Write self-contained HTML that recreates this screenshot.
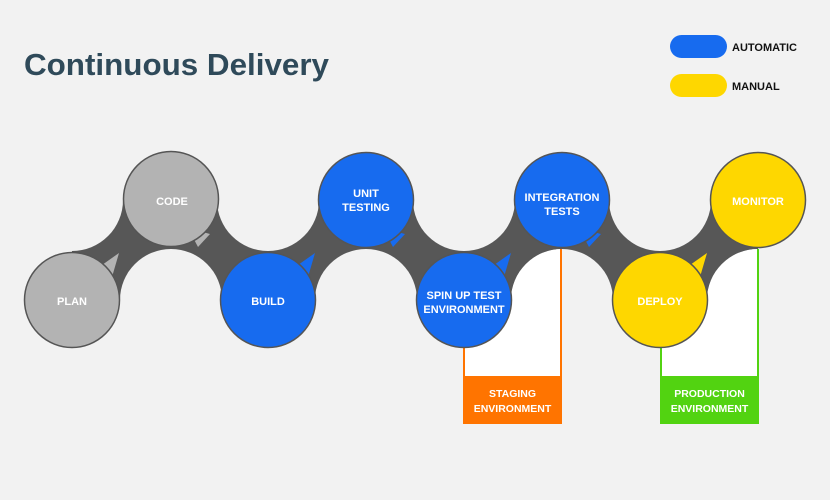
<!DOCTYPE html>
<html><head><meta charset="utf-8"><style>
html,body{margin:0;padding:0;background:#f2f2f2;}
svg{display:block;font-family:"Liberation Sans",Arial,sans-serif;font-weight:bold;}
</style></head><body>
<svg width="830" height="500" viewBox="0 0 830 500" xmlns="http://www.w3.org/2000/svg">
<defs>
<clipPath id="c1"><rect x="464" y="240" width="98" height="140"/></clipPath>
<clipPath id="c2"><rect x="660" y="240" width="98" height="140"/></clipPath>
</defs>
<rect width="830" height="500" fill="#f2f2f2"/>
<text x="24" y="75" font-size="31" fill="#2f4a5a" textLength="305" lengthAdjust="spacingAndGlyphs">Continuous Delivery</text>
<rect x="670" y="35" width="57" height="23" rx="11.5" fill="#176bef"/>
<text x="732" y="51" font-size="11" fill="#111">AUTOMATIC</text>
<rect x="670" y="74" width="57" height="23" rx="11.5" fill="#fed700"/>
<text x="732" y="90" font-size="11" fill="#111">MANUAL</text>

<!-- dark band -->
<rect x="72" y="200" width="686" height="100" fill="#575757"/>
<g fill="#f2f2f2">
<circle cx="72" cy="200" r="51"/>
<circle cx="171" cy="300" r="51"/>
<circle cx="268" cy="200" r="51"/>
<circle cx="366" cy="300" r="51"/>
<circle cx="464" cy="200" r="51"/>
<circle cx="562" cy="300" r="51"/>
<circle cx="660" cy="200" r="51"/>
<circle cx="758" cy="300" r="51"/>
</g>
<!-- staging box -->
<g clip-path="url(#c1)" fill="#fff">
<circle cx="562" cy="300" r="51"/>
<rect x="464" y="300" width="98" height="77"/>
</g>
<rect x="463" y="300" width="2" height="77" fill="#ff7400"/>
<rect x="560" y="249" width="2" height="128" fill="#ff7400"/>
<rect x="463" y="376" width="99" height="48" fill="#ff7400"/>
<text x="512.5" y="397" font-size="10.5" fill="#fff" text-anchor="middle">STAGING</text>
<text x="512.5" y="412" font-size="10.5" fill="#fff" text-anchor="middle">ENVIRONMENT</text>
<!-- production box -->
<g clip-path="url(#c2)" fill="#fff">
<circle cx="758" cy="300" r="51"/>
<rect x="660" y="300" width="98" height="77"/>
</g>
<rect x="660" y="300" width="2" height="77" fill="#52d311"/>
<rect x="757" y="249" width="2" height="128" fill="#52d311"/>
<rect x="660" y="376" width="99" height="48" fill="#52d311"/>
<text x="709.5" y="397" font-size="10.5" fill="#fff" text-anchor="middle">PRODUCTION</text>
<text x="709.5" y="412" font-size="10.5" fill="#fff" text-anchor="middle">ENVIRONMENT</text>

<!-- tails -->
<g stroke="none">
<polygon points="102,265 119,253 112,277" fill="#b3b3b3"/>
<polygon points="188,228 198,247 210,234" fill="#b3b3b3"/>
<polygon points="298,265 315,253 308,277" fill="#176bef"/>
<polygon points="383,228 393,247 405,234" fill="#176bef"/>
<polygon points="494,265 511,253 504,277" fill="#176bef"/>
<polygon points="579,228 589,247 601,234" fill="#176bef"/>
<polygon points="690,265 707,253 700,277" fill="#fed700"/>
</g>
<!-- circles -->
<g stroke="#555" stroke-width="1.5">
<circle cx="72" cy="300" r="47.5" fill="#b3b3b3"/>
<circle cx="171" cy="199" r="47.5" fill="#b3b3b3"/>
<circle cx="268" cy="300" r="47.5" fill="#176bef"/>
<circle cx="366" cy="200" r="47.5" fill="#176bef"/>
<circle cx="464" cy="300" r="47.5" fill="#176bef"/>
<circle cx="562" cy="200" r="47.5" fill="#176bef"/>
<circle cx="660" cy="300" r="47.5" fill="#fed700"/>
<circle cx="758" cy="200" r="47.5" fill="#fed700"/>
</g>
<g fill="#fff" font-size="11" text-anchor="middle">
<text x="72" y="305">PLAN</text>
<text x="172" y="205">CODE</text>
<text x="268" y="305">BUILD</text>
<text x="366" y="197">UNIT</text>
<text x="366" y="211">TESTING</text>
<text x="464" y="299">SPIN UP TEST</text>
<text x="464" y="313">ENVIRONMENT</text>
<text x="562" y="201">INTEGRATION</text>
<text x="562" y="215">TESTS</text>
<text x="660" y="305">DEPLOY</text>
<text x="758" y="205">MONITOR</text>
</g>
</svg>
</body></html>
